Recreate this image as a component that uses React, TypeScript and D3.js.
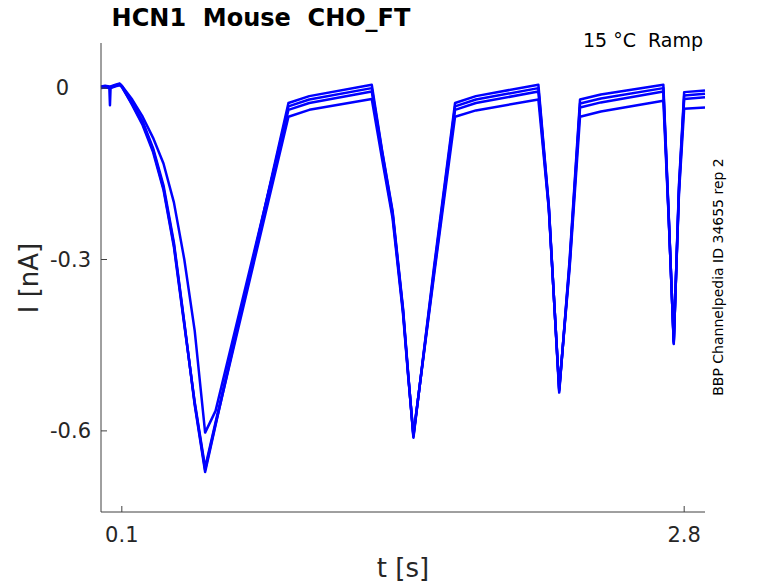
import * as d3 from "d3";

// time grid shared by all sweeps (s)
const T = [
  0, 0.02, 0.04, 0.043, 0.046, 0.07, 0.09, 0.1,
  0.15, 0.2, 0.25, 0.3, 0.35, 0.4, 0.45, 0.5,
  0.55, 0.9, 1.0, 1.3,
  1.35, 1.4, 1.45, 1.475, 1.5, 1.6, 1.7, 1.8, 2.1,
  2.15, 2.2, 2.25, 2.3, 2.4, 2.7,
  2.725, 2.75, 2.775, 2.8, 2.9,
];

// current of each sweep (nA)
const sweepA = [
  0.003, 0.004, 0.003, 0.002, 0.003, 0.006, 0.008, 0.004,
  -0.025, -0.058, -0.105, -0.17, -0.27, -0.41, -0.555, -0.672,
  -0.59, -0.026, -0.014, 0.006,
  -0.11, -0.215, -0.385, -0.5, -0.612, -0.31, -0.026, -0.014, 0.006,
  -0.205, -0.533, -0.3, -0.02, -0.011, 0.006,
  -0.215, -0.448, -0.17, -0.007, -0.004,
];
const sweepB = [
  0.001, 0.002, 0.001, -0.03, 0.001, 0.004, 0.007, 0.003,
  -0.03, -0.065, -0.112, -0.178, -0.278, -0.415, -0.55, -0.664,
  -0.585, -0.032, -0.02, 0.0,
  -0.112, -0.218, -0.388, -0.502, -0.61, -0.315, -0.032, -0.02, 0.0,
  -0.207, -0.53, -0.305, -0.027, -0.018, 0.0,
  -0.218, -0.446, -0.175, -0.013, -0.01,
];
const sweepC = [
  0.002, 0.003, 0.002, 0.002, 0.002, 0.005, 0.007, 0.004,
  -0.02, -0.05, -0.087, -0.132, -0.2, -0.3, -0.425, -0.603,
  -0.565, -0.038, -0.026, -0.006,
  -0.118, -0.222, -0.39, -0.503, -0.608, -0.32, -0.038, -0.026, -0.006,
  -0.21, -0.528, -0.31, -0.034, -0.025, -0.006,
  -0.22, -0.444, -0.18, -0.019, -0.016,
];
const sweepD = [
  0.0, 0.001, 0.0, 0.0, 0.0, 0.003, 0.005, 0.002,
  -0.028, -0.062, -0.108, -0.175, -0.274, -0.412, -0.552, -0.668,
  -0.588, -0.05, -0.038, -0.019,
  -0.125, -0.228, -0.395, -0.505, -0.606, -0.325, -0.05, -0.039, -0.02,
  -0.212, -0.526, -0.315, -0.05, -0.041, -0.022,
  -0.222, -0.442, -0.185, -0.036, -0.034,
];
const sweeps = [sweepA, sweepB, sweepC, sweepD];

const xTicks = [0.1, 2.8];
const xTickLabels = ["0.1", "2.8"];
const yTicks = [0, -0.3, -0.6];
const yTickLabels = ["0", "-0.3", "-0.6"];

const width = 778;
const height = 583;
const marginLeft = 101;
const marginRight = 73;
const marginTop = 43;
const marginBottom = 71;
const font = "DejaVu Sans, sans-serif";
const ink = "#262626";

export default function App() {
  const x = d3.scaleLinear([0, 2.9], [marginLeft, width - marginRight]);
  const y = d3.scaleLinear([-0.742, 0.079], [height - marginBottom, marginTop]);
  const line = d3
    .line<number>()
    .x((d, i) => x(T[i]))
    .y((d) => y(d));
  const x0 = marginLeft;
  const x1 = width - marginRight;
  const yb = height - marginBottom;

  return (
    <svg
      width={width}
      height={height}
      style={{ position: "absolute", left: 0, top: 0, background: "white" }}
      fontFamily={font}
    >
      <g fill="none" stroke="#0000ff" strokeWidth="2.5" strokeLinejoin="round">
        {sweeps.map((s, i) => (
          <path key={i} d={line(s) as string} />
        ))}
      </g>
      <g stroke="#404040" strokeWidth="1" fill="none">
        <line x1={x0} x2={x0} y1={marginTop} y2={yb} />
        <line x1={x0} x2={x1} y1={yb} y2={yb} />
        {xTicks.map((t, i) => (
          <line key={i} x1={x(t)} x2={x(t)} y1={yb} y2={yb - 6} />
        ))}
        {yTicks.map((t, i) => (
          <line key={i} x1={x0} x2={x0 + 6} y1={y(t)} y2={y(t)} />
        ))}
      </g>
      <g fill={ink} fontSize="21">
        {xTicks.map((t, i) => (
          <text key={i} x={x(t)} y={yb + 30} textAnchor="middle">
            {xTickLabels[i]}
          </text>
        ))}
        {yTicks.map((t, i) => (
          <text
            key={i}
            x={yTickLabels[i] === "0" ? 69 : x0 - 10}
            y={y(t)}
            dy="0.35em"
            textAnchor="end"
          >
            {yTickLabels[i]}
          </text>
        ))}
      </g>
      <text x={403} y={577} textAnchor="middle" fontSize="26" fill={ink}>
        t [s]
      </text>
      <text
        transform={`translate(38,278) rotate(-90)`}
        textAnchor="middle"
        fontSize="26"
        fill={ink}
      >
        I [nA]
      </text>
      <text
        x={261}
        y={26}
        textAnchor="middle"
        fontSize="24"
        fontWeight="bold"
        fill="#000"
        style={{ whiteSpace: "pre" }}
      >
        {"HCN1  Mouse  CHO_FT"}
      </text>
      <text
        x={703}
        y={47}
        textAnchor="end"
        fontSize="19"
        fill="#000"
        style={{ whiteSpace: "pre" }}
      >
        {"15 °C  Ramp"}
      </text>
      <text
        transform={`translate(723,277) rotate(-90)`}
        textAnchor="middle"
        fontSize="14"
        fill="#000"
      >
        BBP Channelpedia ID 34655 rep 2
      </text>
    </svg>
  );
}
